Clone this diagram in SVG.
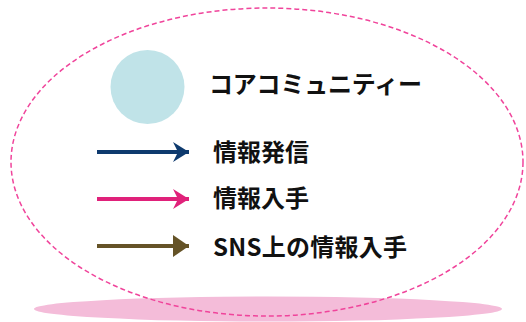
<svg xmlns="http://www.w3.org/2000/svg" width="526" height="322" viewBox="0 0 526 322">
<style>
.t{font-family:"Noto Sans CJK JP","Noto Sans",sans-serif;font-weight:bold;font-size:24px;fill:#111}
</style>
<defs>
<marker id="hb" markerUnits="userSpaceOnUse" markerWidth="20" markerHeight="22" refX="16" refY="11" orient="auto"><path d="M0,1 L16,11 L0,21 L5,11 Z" fill="#0E3A6E"/></marker>
<marker id="hp" markerUnits="userSpaceOnUse" markerWidth="20" markerHeight="22" refX="16" refY="11" orient="auto"><path d="M0,1 L16,11 L0,21 L5,11 Z" fill="#E0217A"/></marker>
<marker id="hr" markerUnits="userSpaceOnUse" markerWidth="20" markerHeight="24" refX="16" refY="12" orient="auto"><path d="M0,1 L16,12 L0,23 Z" fill="#655327"/></marker>
</defs>
<ellipse cx="268" cy="309" rx="234" ry="12.5" fill="#F4BCD9"/>
<ellipse cx="267" cy="162" rx="256" ry="154" fill="none" stroke="#F0449B" stroke-width="1.5" stroke-dasharray="5,3"/>
<g id="core"><circle cx="147.5" cy="87" r="37" fill="#C0E3E8"/><text class="t" x="209" y="93" textLength="213">コアコミュニティー</text></g>
<g id="connectors">
<line x1="97" y1="152" x2="189" y2="152" stroke="#0E3A6E" stroke-width="4" marker-end="url(#hb)"/>
<line x1="97" y1="199" x2="189" y2="199" stroke="#E0217A" stroke-width="4" marker-end="url(#hp)"/>
<line x1="97" y1="246" x2="189" y2="246" stroke="#655327" stroke-width="4" marker-end="url(#hr)"/>
</g>
<g id="l1"><text class="t" x="213" y="161">情報発信</text></g>
<g id="l2"><text class="t" x="213" y="207">情報入手</text></g>
<g id="l3"><text class="t" x="213" y="256" textLength="194">SNS上の情報入手</text></g>
</svg>
